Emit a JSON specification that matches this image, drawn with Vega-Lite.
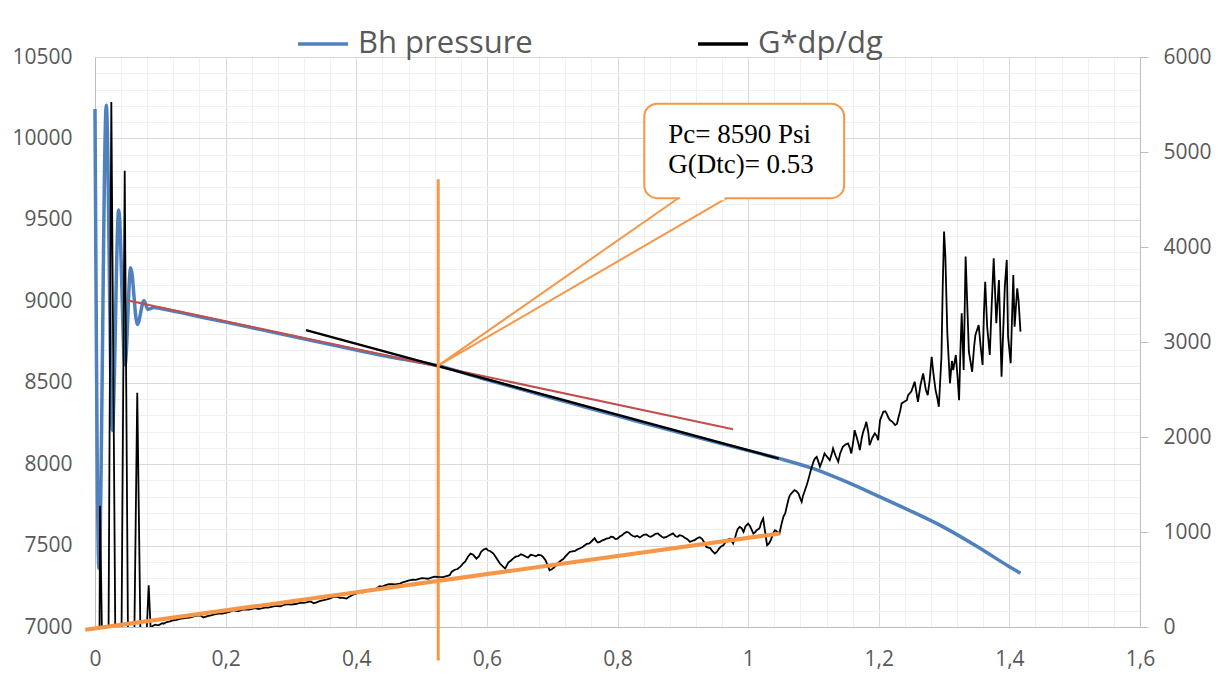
{
  "$schema": "https://vega.github.io/schema/vega-lite/v6.json",
  "width": 1045,
  "height": 570,
  "autosize": {"type": "none"},
  "padding": {"left": 95, "top": 57, "right": 79, "bottom": 47},
  "background": "white",
  "config": {
    "view": {"stroke": null},
    "axis": {"labelFont": "Open Sans", "labelFontSize": 21, "labelColor": "#595959", "title": null},
    "text": {"font": "Liberation Serif"}
  },
  "datasets": {
    "bh": [
      {"x": 0, "p": 10180}, {"x": 0.006, "p": 7360}, {"x": 0.0173, "p": 10204}, {"x": 0.0265, "p": 8208},
      {"x": 0.0363, "p": 9561}, {"x": 0.046, "p": 8609}, {"x": 0.0546, "p": 9206}, {"x": 0.0648, "p": 8858},
      {"x": 0.075, "p": 9003}, {"x": 0.081, "p": 8950}, {"x": 0.09, "p": 8962}, {"x": 0.1, "p": 8956},
      {"x": 0.15, "p": 8914}, {"x": 0.2, "p": 8872}, {"x": 0.25, "p": 8829}, {"x": 0.3, "p": 8786},
      {"x": 0.35, "p": 8743}, {"x": 0.4, "p": 8701}, {"x": 0.45, "p": 8660}, {"x": 0.5, "p": 8624},
      {"x": 0.525, "p": 8604}, {"x": 0.55, "p": 8577}, {"x": 0.6, "p": 8518}, {"x": 0.65, "p": 8462},
      {"x": 0.7, "p": 8406}, {"x": 0.75, "p": 8351}, {"x": 0.8, "p": 8296}, {"x": 0.85, "p": 8241},
      {"x": 0.9, "p": 8188}, {"x": 0.95, "p": 8135}, {"x": 1.0, "p": 8083}, {"x": 1.05, "p": 8032},
      {"x": 1.1, "p": 7972}, {"x": 1.15, "p": 7892}, {"x": 1.2, "p": 7802}, {"x": 1.25, "p": 7710},
      {"x": 1.3, "p": 7612}, {"x": 1.35, "p": 7496}, {"x": 1.4, "p": 7370}, {"x": 1.417, "p": 7330}
    ],
    "red": [{"x": 0.0505, "p": 9005}, {"x": 0.977, "p": 8214}],
    "tangent": [{"x": 0.323, "p": 8823}, {"x": 1.047, "p": 8034}],
    "vline": [{"x": 0.5255, "p": 6795, "p2": 9750}],
    "box": [{"x": 0.841, "x2": 1.147, "p": 9633, "p2": 10213}],
    "pointer": [{"x": 0.893, "p": 9633, "o": 1}, {"x": 0.5255, "p": 8605, "o": 2}, {"x": 0.967, "p": 9633, "o": 3}],
    "gap": [{"x": 0.896, "x2": 0.964, "p": 9633}],
    "notes": [{"x": 0.8776, "p": 9971, "label": "Pc= 8590 Psi"}, {"x": 0.8776, "p": 9787, "label": "G(Dtc)= 0.53"}],
    "trend": [{"x": -0.015, "g": -30}, {"x": 1.0485, "g": 985}],
    "gdp": [
      {"x": 0.0069, "g": -100}, {"x": 0.0077, "g": 1275}, {"x": 0.0107, "g": -100},
      {"x": 0.0207, "g": -100}, {"x": 0.025, "g": 5526}, {"x": 0.0311, "g": -100},
      {"x": 0.0406, "g": -100}, {"x": 0.0455, "g": 4802}, {"x": 0.0505, "g": -100},
      {"x": 0.0602, "g": -100}, {"x": 0.0647, "g": 2466}, {"x": 0.0696, "g": -100},
      {"x": 0.0788, "g": -100}, {"x": 0.0822, "g": 439}, {"x": 0.0857, "g": -100},
      {"x": 0.088, "g": 10}, {"x": 0.092, "g": 25}, {"x": 0.097, "g": 18}, {"x": 0.103, "g": 40},
      {"x": 0.11, "g": 52}, {"x": 0.12, "g": 71}, {"x": 0.13, "g": 85}, {"x": 0.14, "g": 95},
      {"x": 0.15, "g": 108}, {"x": 0.161, "g": 123}, {"x": 0.166, "g": 99}, {"x": 0.172, "g": 115},
      {"x": 0.18, "g": 128}, {"x": 0.19, "g": 140}, {"x": 0.2, "g": 150}, {"x": 0.212, "g": 176},
      {"x": 0.22, "g": 168}, {"x": 0.23, "g": 185}, {"x": 0.242, "g": 194}, {"x": 0.25, "g": 188},
      {"x": 0.26, "g": 205}, {"x": 0.27, "g": 212}, {"x": 0.28, "g": 220}, {"x": 0.288, "g": 229},
      {"x": 0.3, "g": 235}, {"x": 0.314, "g": 253}, {"x": 0.325, "g": 262}, {"x": 0.335, "g": 250},
      {"x": 0.345, "g": 275}, {"x": 0.355, "g": 290}, {"x": 0.365, "g": 316}, {"x": 0.375, "g": 308},
      {"x": 0.385, "g": 299}, {"x": 0.395, "g": 340}, {"x": 0.406, "g": 369}, {"x": 0.415, "g": 380},
      {"x": 0.425, "g": 395}, {"x": 0.436, "g": 429}, {"x": 0.445, "g": 440}, {"x": 0.455, "g": 452},
      {"x": 0.467, "g": 457}, {"x": 0.475, "g": 478}, {"x": 0.487, "g": 499}, {"x": 0.495, "g": 505},
      {"x": 0.505, "g": 512}, {"x": 0.515, "g": 520}, {"x": 0.525, "g": 527}, {"x": 0.533, "g": 525},
      {"x": 0.543, "g": 545}, {"x": 0.55, "g": 600}, {"x": 0.559, "g": 632}, {"x": 0.567, "g": 690},
      {"x": 0.575, "g": 773}, {"x": 0.584, "g": 720}, {"x": 0.591, "g": 790}, {"x": 0.599, "g": 826},
      {"x": 0.605, "g": 800}, {"x": 0.61, "g": 773}, {"x": 0.62, "g": 668}, {"x": 0.628, "g": 615},
      {"x": 0.633, "g": 680}, {"x": 0.64, "g": 720}, {"x": 0.648, "g": 745}, {"x": 0.656, "g": 755},
      {"x": 0.663, "g": 730}, {"x": 0.671, "g": 755}, {"x": 0.679, "g": 760}, {"x": 0.686, "g": 738},
      {"x": 0.696, "g": 597}, {"x": 0.705, "g": 640}, {"x": 0.714, "g": 703}, {"x": 0.72, "g": 740},
      {"x": 0.727, "g": 790}, {"x": 0.735, "g": 800}, {"x": 0.742, "g": 826}, {"x": 0.75, "g": 860},
      {"x": 0.757, "g": 880}, {"x": 0.763, "g": 921}, {"x": 0.768, "g": 900}, {"x": 0.773, "g": 896},
      {"x": 0.78, "g": 920}, {"x": 0.787, "g": 935}, {"x": 0.793, "g": 948}, {"x": 0.8, "g": 930},
      {"x": 0.807, "g": 965}, {"x": 0.814, "g": 1001}, {"x": 0.82, "g": 975}, {"x": 0.827, "g": 950},
      {"x": 0.834, "g": 942}, {"x": 0.84, "g": 970}, {"x": 0.848, "g": 955}, {"x": 0.855, "g": 966},
      {"x": 0.862, "g": 985}, {"x": 0.868, "g": 950}, {"x": 0.875, "g": 948}, {"x": 0.882, "g": 975},
      {"x": 0.889, "g": 955}, {"x": 0.895, "g": 966}, {"x": 0.903, "g": 940}, {"x": 0.911, "g": 896},
      {"x": 0.918, "g": 915}, {"x": 0.924, "g": 940}, {"x": 0.929, "g": 931}, {"x": 0.936, "g": 843},
      {"x": 0.942, "g": 830}, {"x": 0.949, "g": 773}, {"x": 0.955, "g": 820}, {"x": 0.962, "g": 861},
      {"x": 0.967, "g": 900}, {"x": 0.972, "g": 931}, {"x": 0.977, "g": 879}, {"x": 0.982, "g": 990},
      {"x": 0.987, "g": 1054}, {"x": 0.993, "g": 1000}, {"x": 1.0, "g": 1089}, {"x": 1.005, "g": 1030},
      {"x": 1.008, "g": 984}, {"x": 1.013, "g": 1019}, {"x": 1.018, "g": 1050}, {"x": 1.023, "g": 1142},
      {"x": 1.026, "g": 1000}, {"x": 1.029, "g": 861}, {"x": 1.035, "g": 920}, {"x": 1.041, "g": 1019},
      {"x": 1.045, "g": 1000}, {"x": 1.048, "g": 984}, {"x": 1.054, "g": 1159}, {"x": 1.059, "g": 1264},
      {"x": 1.064, "g": 1388}, {"x": 1.071, "g": 1440}, {"x": 1.077, "g": 1406}, {"x": 1.082, "g": 1317},
      {"x": 1.087, "g": 1440}, {"x": 1.092, "g": 1546}, {"x": 1.1, "g": 1739}, {"x": 1.105, "g": 1791},
      {"x": 1.11, "g": 1686}, {"x": 1.117, "g": 1827}, {"x": 1.125, "g": 1757}, {"x": 1.13, "g": 1880},
      {"x": 1.138, "g": 1739}, {"x": 1.145, "g": 1897}, {"x": 1.153, "g": 1933}, {"x": 1.158, "g": 1827},
      {"x": 1.163, "g": 2072}, {"x": 1.166, "g": 2002}, {"x": 1.171, "g": 1862}, {"x": 1.176, "g": 2050},
      {"x": 1.181, "g": 2160}, {"x": 1.186, "g": 1915}, {"x": 1.194, "g": 2038}, {"x": 1.199, "g": 1967},
      {"x": 1.202, "g": 2178}, {"x": 1.207, "g": 2266}, {"x": 1.212, "g": 2249}, {"x": 1.217, "g": 2178},
      {"x": 1.225, "g": 2125}, {"x": 1.23, "g": 2200}, {"x": 1.235, "g": 2354}, {"x": 1.243, "g": 2388},
      {"x": 1.245, "g": 2441}, {"x": 1.25, "g": 2480}, {"x": 1.255, "g": 2582}, {"x": 1.26, "g": 2371},
      {"x": 1.264, "g": 2550}, {"x": 1.268, "g": 2670}, {"x": 1.272, "g": 2500}, {"x": 1.275, "g": 2441},
      {"x": 1.278, "g": 2600}, {"x": 1.281, "g": 2845}, {"x": 1.284, "g": 2650}, {"x": 1.287, "g": 2494},
      {"x": 1.29, "g": 2400}, {"x": 1.292, "g": 2318}, {"x": 1.296, "g": 2845}, {"x": 1.298, "g": 3600},
      {"x": 1.3, "g": 4162}, {"x": 1.302, "g": 3900}, {"x": 1.305, "g": 3092}, {"x": 1.309, "g": 2565},
      {"x": 1.312, "g": 2800}, {"x": 1.314, "g": 2705}, {"x": 1.318, "g": 2863}, {"x": 1.321, "g": 2600},
      {"x": 1.323, "g": 2388}, {"x": 1.325, "g": 2900}, {"x": 1.327, "g": 3302}, {"x": 1.33, "g": 2705},
      {"x": 1.333, "g": 3899}, {"x": 1.336, "g": 3300}, {"x": 1.338, "g": 2898}, {"x": 1.343, "g": 2687},
      {"x": 1.346, "g": 2950}, {"x": 1.348, "g": 3074}, {"x": 1.353, "g": 3179}, {"x": 1.356, "g": 2950},
      {"x": 1.359, "g": 2758}, {"x": 1.361, "g": 3300}, {"x": 1.363, "g": 3635}, {"x": 1.366, "g": 3161},
      {"x": 1.37, "g": 2863}, {"x": 1.373, "g": 3400}, {"x": 1.376, "g": 3882}, {"x": 1.38, "g": 3197},
      {"x": 1.384, "g": 3653}, {"x": 1.388, "g": 2634}, {"x": 1.391, "g": 3200}, {"x": 1.393, "g": 3583},
      {"x": 1.396, "g": 3864}, {"x": 1.398, "g": 3056}, {"x": 1.402, "g": 2776}, {"x": 1.406, "g": 3706},
      {"x": 1.408, "g": 3161}, {"x": 1.412, "g": 3566}, {"x": 1.414, "g": 3443}, {"x": 1.417, "g": 3109},
      {"x": 0.105, "g": 35}, {"x": 0.115, "g": 60}, {"x": 0.125, "g": 74}, {"x": 0.135, "g": 92},
      {"x": 0.145, "g": 98}, {"x": 0.155, "g": 116}, {"x": 0.176, "g": 120}, {"x": 0.185, "g": 135},
      {"x": 0.195, "g": 142}, {"x": 0.206, "g": 158}, {"x": 0.216, "g": 170}, {"x": 0.225, "g": 180},
      {"x": 0.236, "g": 182}, {"x": 0.246, "g": 199}, {"x": 0.255, "g": 196}, {"x": 0.265, "g": 203},
      {"x": 0.275, "g": 220}, {"x": 0.284, "g": 218}, {"x": 0.294, "g": 240}, {"x": 0.307, "g": 242},
      {"x": 0.32, "g": 255}, {"x": 0.33, "g": 270}, {"x": 0.34, "g": 262}, {"x": 0.35, "g": 282},
      {"x": 0.36, "g": 300}, {"x": 0.37, "g": 320}, {"x": 0.38, "g": 306}, {"x": 0.39, "g": 320},
      {"x": 0.4, "g": 352}, {"x": 0.41, "g": 362}, {"x": 0.42, "g": 392}, {"x": 0.43, "g": 400},
      {"x": 0.44, "g": 425}, {"x": 0.45, "g": 450}, {"x": 0.46, "g": 448}, {"x": 0.471, "g": 470},
      {"x": 0.481, "g": 490}, {"x": 0.491, "g": 497}, {"x": 0.5, "g": 515}, {"x": 0.51, "g": 508},
      {"x": 0.52, "g": 530},
      {"x": 0.546, "g": 580}, {"x": 0.555, "g": 610}, {"x": 0.563, "g": 665}, {"x": 0.571, "g": 740},
      {"x": 0.579, "g": 760}, {"x": 0.588, "g": 745}, {"x": 0.595, "g": 815}, {"x": 0.602, "g": 805},
      {"x": 0.615, "g": 720}, {"x": 0.624, "g": 640}, {"x": 0.637, "g": 700}, {"x": 0.644, "g": 740},
      {"x": 0.652, "g": 765}, {"x": 0.66, "g": 740}, {"x": 0.667, "g": 760}, {"x": 0.675, "g": 745},
      {"x": 0.683, "g": 755}, {"x": 0.69, "g": 700}, {"x": 0.7, "g": 610}, {"x": 0.71, "g": 680},
      {"x": 0.717, "g": 715}, {"x": 0.724, "g": 770}, {"x": 0.731, "g": 795}, {"x": 0.738, "g": 815},
      {"x": 0.746, "g": 840}, {"x": 0.753, "g": 875}, {"x": 0.76, "g": 900}, {"x": 0.765, "g": 935},
      {"x": 0.77, "g": 890}, {"x": 0.776, "g": 910}, {"x": 0.783, "g": 930}, {"x": 0.79, "g": 950},
      {"x": 0.797, "g": 925}, {"x": 0.803, "g": 950}, {"x": 0.81, "g": 985}, {"x": 0.817, "g": 995},
      {"x": 0.823, "g": 960}, {"x": 0.83, "g": 960}, {"x": 0.837, "g": 955}, {"x": 0.844, "g": 975},
      {"x": 0.851, "g": 950}, {"x": 0.858, "g": 980}, {"x": 0.865, "g": 965}, {"x": 0.871, "g": 940},
      {"x": 0.878, "g": 960}, {"x": 0.885, "g": 985}, {"x": 0.892, "g": 950}, {"x": 0.899, "g": 960},
      {"x": 0.907, "g": 925}, {"x": 0.914, "g": 905}, {"x": 0.921, "g": 930}, {"x": 0.926, "g": 945},
      {"x": 0.932, "g": 900}, {"x": 0.939, "g": 835}, {"x": 0.945, "g": 800}, {"x": 0.952, "g": 790},
      {"x": 0.958, "g": 845}, {"x": 0.964, "g": 880}, {"x": 0.969, "g": 920}, {"x": 0.975, "g": 905},
      {"x": 0.98, "g": 940}, {"x": 0.984, "g": 1030}, {"x": 0.99, "g": 1040}, {"x": 0.996, "g": 1060},
      {"x": 1.003, "g": 1060}, {"x": 1.011, "g": 1000}, {"x": 1.016, "g": 1030}, {"x": 1.02, "g": 1100},
      {"x": 1.032, "g": 880}, {"x": 1.038, "g": 980}, {"x": 1.043, "g": 1010}, {"x": 1.051, "g": 1080},
      {"x": 1.057, "g": 1200}, {"x": 1.062, "g": 1350}, {"x": 1.068, "g": 1420}, {"x": 1.074, "g": 1430},
      {"x": 1.08, "g": 1350}, {"x": 1.084, "g": 1380}, {"x": 1.09, "g": 1500}, {"x": 1.096, "g": 1650},
      {"x": 1.102, "g": 1770}, {"x": 1.108, "g": 1730}, {"x": 1.114, "g": 1760}, {"x": 1.121, "g": 1790},
      {"x": 1.128, "g": 1820}, {"x": 1.134, "g": 1800}, {"x": 1.141, "g": 1830}, {"x": 1.149, "g": 1920},
      {"x": 1.156, "g": 1880}, {"x": 1.161, "g": 1950}, {"x": 1.169, "g": 1930}, {"x": 1.174, "g": 1990},
      {"x": 1.179, "g": 2110}, {"x": 1.184, "g": 2050}, {"x": 1.19, "g": 1990}, {"x": 1.197, "g": 2010},
      {"x": 1.205, "g": 2230}, {"x": 1.21, "g": 2270}, {"x": 1.215, "g": 2200}, {"x": 1.221, "g": 2160},
      {"x": 1.228, "g": 2140}, {"x": 1.233, "g": 2280}, {"x": 1.239, "g": 2370}
    ]
  },
  "layer": [
    {
      "data": {"name": "bh"},
      "mark": {"type": "line", "strokeWidth": 3.5, "interpolate": "monotone"},
      "encoding": {
        "x": {
          "field": "x", "type": "quantitative",
          "scale": {"domain": [0, 1.6], "nice": false},
          "axis": {
            "orient": "bottom",
            "values": [0.04, 0.08, 0.12, 0.16, 0.24, 0.28, 0.32, 0.36, 0.44, 0.48, 0.52, 0.56, 0.64, 0.68, 0.72, 0.76, 0.84, 0.88, 0.92, 0.96, 1.04, 1.08, 1.12, 1.16, 1.24, 1.28, 1.32, 1.36, 1.44, 1.48, 1.52, 1.56],
            "grid": true, "gridColor": "#f0f0f0", "gridWidth": 1,
            "labels": false, "ticks": false, "domain": false, "title": null
          }
        },
        "y": {
          "field": "p", "type": "quantitative",
          "scale": {"domain": [7000, 10500], "nice": false, "zero": false},
          "axis": {
            "orient": "left",
            "values": [7100, 7200, 7300, 7400, 7600, 7700, 7800, 7900, 8100, 8200, 8300, 8400, 8600, 8700, 8800, 8900, 9100, 9200, 9300, 9400, 9600, 9700, 9800, 9900, 10100, 10200, 10300, 10400],
            "grid": true, "gridColor": "#f0f0f0", "gridWidth": 1,
            "labels": false, "ticks": false, "domain": false, "title": null
          }
        },
        "color": {
          "datum": "Bh pressure", "type": "nominal",
          "scale": {"domain": ["Bh pressure", "G*dp/dg"], "range": ["#4f81bd", "#000000"]},
          "legend": {
            "orient": "none", "legendX": 201, "legendY": -40, "direction": "horizontal",
            "title": null, "symbolType": "stroke", "symbolSize": 2500, "symbolStrokeWidth": 3.5,
            "labelFont": "Open Sans", "labelFontSize": 31, "labelColor": "#595959",
            "labelOffset": 8, "columnPadding": 158, "labelLimit": 400
          }
        }
      }
    },
    {
      "data": {"name": "red"},
      "mark": {"type": "line", "color": "#c0504d", "strokeWidth": 2},
      "encoding": {
        "x": {
          "field": "x", "type": "quantitative",
          "scale": {"domain": [0, 1.6], "nice": false},
          "axis": {
            "orient": "bottom",
            "values": [0, 0.2, 0.4, 0.6, 0.8, 1, 1.2, 1.4, 1.6],
            "labelExpr": "replace(format(datum.value, '~g'), '.', ',')",
            "grid": true, "gridColor": "#d9d9d9", "gridWidth": 1,
            "ticks": false, "domain": true, "domainColor": "#bfbfbf", "domainWidth": 1,
            "labelPadding": 21, "labelFlush": false, "title": null
          }
        },
        "y": {
          "field": "p", "type": "quantitative",
          "scale": {"domain": [7000, 10500], "nice": false, "zero": false},
          "axis": {
            "orient": "left",
            "values": [7000, 7500, 8000, 8500, 9000, 9500, 10000, 10500],
            "format": "d",
            "grid": true, "gridColor": "#d9d9d9", "gridWidth": 1,
            "ticks": false, "domain": true, "domainColor": "#bfbfbf", "domainWidth": 1,
            "labelPadding": 23, "title": null
          }
        }
      }
    },
    {
      "data": {"name": "tangent"},
      "mark": {"type": "line", "color": "#000000", "strokeWidth": 2.5},
      "encoding": {
        "x": {"field": "x", "type": "quantitative", "scale": {"domain": [0, 1.6], "nice": false}, "axis": null},
        "y": {"field": "p", "type": "quantitative", "scale": {"domain": [7000, 10500], "nice": false, "zero": false}, "axis": null}
      }
    },
    {
      "data": {"name": "vline"},
      "mark": {"type": "rule", "color": "#f79646", "strokeWidth": 3},
      "encoding": {
        "x": {"field": "x", "type": "quantitative", "scale": {"domain": [0, 1.6], "nice": false}, "axis": null},
        "y": {"field": "p", "type": "quantitative", "scale": {"domain": [7000, 10500], "nice": false, "zero": false}, "axis": null},
        "y2": {"field": "p2"}
      }
    },
    {
      "data": {"name": "pointer"},
      "mark": {"type": "line", "color": "#f79646", "strokeWidth": 2},
      "encoding": {
        "x": {"field": "x", "type": "quantitative", "scale": {"domain": [0, 1.6], "nice": false}, "axis": null},
        "y": {"field": "p", "type": "quantitative", "scale": {"domain": [7000, 10500], "nice": false, "zero": false}, "axis": null},
        "order": {"field": "o", "type": "quantitative"}
      }
    },
    {
      "data": {"name": "box"},
      "mark": {"type": "rect", "fill": "white", "stroke": "#f79646", "strokeWidth": 2, "cornerRadius": 13},
      "encoding": {
        "x": {"field": "x", "type": "quantitative", "scale": {"domain": [0, 1.6], "nice": false}, "axis": null},
        "x2": {"field": "x2"},
        "y": {"field": "p", "type": "quantitative", "scale": {"domain": [7000, 10500], "nice": false, "zero": false}, "axis": null},
        "y2": {"field": "p2"}
      }
    },
    {
      "data": {"name": "gap"},
      "mark": {"type": "rule", "color": "white", "strokeWidth": 4},
      "encoding": {
        "x": {"field": "x", "type": "quantitative", "scale": {"domain": [0, 1.6], "nice": false}, "axis": null},
        "x2": {"field": "x2"},
        "y": {"field": "p", "type": "quantitative", "scale": {"domain": [7000, 10500], "nice": false, "zero": false}, "axis": null}
      }
    },
    {
      "data": {"name": "notes"},
      "mark": {"type": "text", "align": "left", "baseline": "alphabetic", "font": "Liberation Serif", "fontSize": 27, "color": "#000000"},
      "encoding": {
        "x": {"field": "x", "type": "quantitative", "scale": {"domain": [0, 1.6], "nice": false}, "axis": null},
        "y": {"field": "p", "type": "quantitative", "scale": {"domain": [7000, 10500], "nice": false, "zero": false}, "axis": null},
        "text": {"field": "label"}
      }
    },
    {
      "data": {"name": "gdp"},
      "mark": {"type": "line", "strokeWidth": 1.8, "clip": true},
      "encoding": {
        "x": {"field": "x", "type": "quantitative", "scale": {"domain": [0, 1.6], "nice": false}, "axis": null},
        "y": {
          "field": "g", "type": "quantitative",
          "scale": {"domain": [0, 6000], "nice": false},
          "axis": {
            "orient": "right",
            "values": [0, 1000, 2000, 3000, 4000, 5000, 6000],
            "format": "d", "grid": false,
            "ticks": true, "tickSize": 8, "tickColor": "#bfbfbf",
            "domain": true, "domainColor": "#bfbfbf",
            "labelPadding": 15, "title": null
          }
        },
        "color": {"datum": "G*dp/dg", "type": "nominal"}
      }
    },
    {
      "data": {"name": "trend"},
      "mark": {"type": "line", "color": "#f79646", "strokeWidth": 4},
      "encoding": {
        "x": {"field": "x", "type": "quantitative", "scale": {"domain": [0, 1.6], "nice": false}, "axis": null},
        "y": {"field": "g", "type": "quantitative", "scale": {"domain": [0, 6000], "nice": false}, "axis": null}
      }
    }
  ],
  "resolve": {"scale": {"y": "independent"}, "axis": {"x": "independent", "y": "independent"}}
}
